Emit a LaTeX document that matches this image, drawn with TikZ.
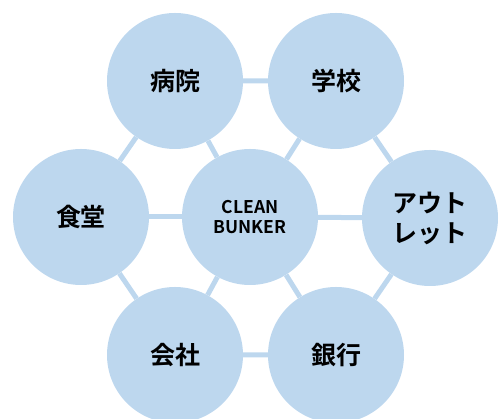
\documentclass[tikz,border=0pt]{standalone}
\usepackage{fontspec}
\setmainfont{Noto Sans CJK JP}[BoldFont={Noto Sans CJK JP Bold}]
\usetikzlibrary{backgrounds}
\definecolor{paleblue}{RGB}{189,215,238}
\tikzset{
  place/.style={circle, fill=paleblue, minimum size=136pt, inner sep=0pt,
    font=\fontsize{25}{30}\selectfont\bfseries, align=center},
  link/.style={draw=paleblue, line width=5pt}
}
\begin{document}
\begin{tikzpicture}[x=1pt,y=1pt]
                \useasboundingbox (0,0) rectangle (501,419);
                \node[place, font=\fontsize{17.5}{20}\selectfont\bfseries] (center) at (250,202) {CLEAN\\BUNKER};
                \node[place] (hospital) at (175,338) {病院};
                \node[place] (school) at (336,338) {学校};
                \node[place] (outlet) at (430,201) {アウト\\レット};
                \node[place] (bank) at (336,64) {銀行};
                \node[place] (company) at (175,64) {会社};
                \node[place] (canteen) at (81,202) {食堂};
                % connectors behind the circles
                \begin{scope}[on background layer]
                \draw[link] (hospital) -- (school) -- (outlet) -- (bank) -- (company) -- (canteen) -- (hospital);
                \foreach \p in {hospital,school,outlet,bank,company,canteen}
                    \draw[link] (center) -- (\p);
                \end{scope}
            \end{tikzpicture}
\end{document}
